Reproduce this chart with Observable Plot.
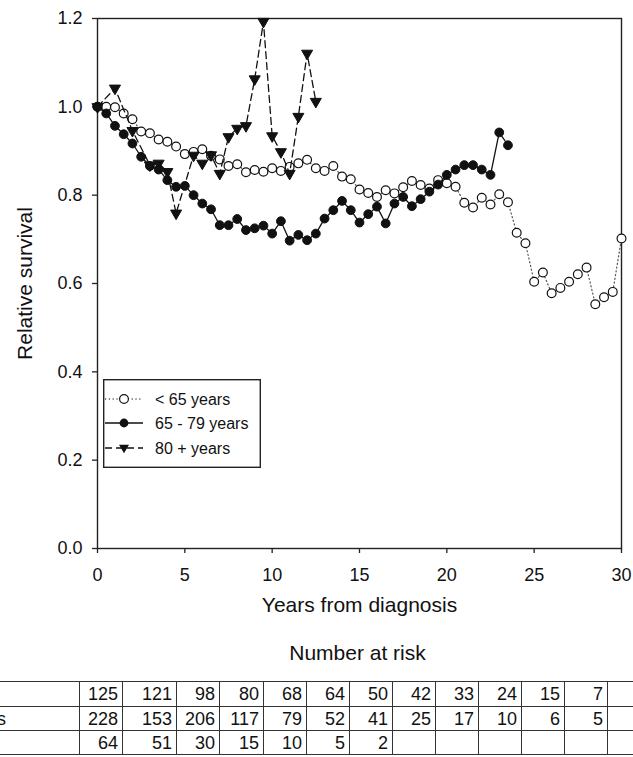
<!DOCTYPE html>
<html>
<head>
<meta charset="utf-8">
<script src="https://cdn.jsdelivr.net/npm/d3@7"></script>
<script src="https://cdn.jsdelivr.net/npm/@observablehq/plot@0.6"></script>
<style>
  html, body { margin: 0; padding: 0; background: #fff; overflow: hidden; }
  #wrap { position: relative; width: 633px; height: 757px; overflow: hidden;
          font-family: "Liberation Sans", Arial, sans-serif; color: #111; }
  #legend { position: absolute; left: 103px; top: 379px; }
  #risk { position: absolute; left: -104px; top: 681px; border-collapse: collapse;
          table-layout: fixed; font-size: 18px; font-family: "Liberation Sans", Arial, sans-serif; }
  #risk td { border: 1.5px solid #333; padding: 0 4px 0 0; text-align: right;
             white-space: nowrap; overflow: hidden; line-height: 20px; }
  #risk td.lab { text-align: left; padding-left: 4px; }
</style>
</head>
<body>
<div id="wrap"></div>
<script>
// ---- data ----
const yearsLt65 = [0,0.5,1,1.5,2,2.5,3,3.5,4,4.5,5,5.5,6,6.5,7,7.5,8,8.5,9,9.5,
  10,10.5,11,11.5,12,12.5,13,13.5,14,14.5,15,15.5,16,16.5,17,17.5,18,18.5,19,19.5,
  20,20.5,21,21.5,22,22.5,23,23.5,24,24.5,25,25.5,26,26.5,27,27.5,28,28.5,29,29.5,30];
const survLt65 = [1.000,1.000,0.999,0.985,0.972,0.944,0.940,0.926,0.921,0.910,
  0.893,0.898,0.904,0.889,0.881,0.866,0.870,0.852,0.857,0.853,
  0.861,0.855,0.864,0.872,0.880,0.861,0.855,0.866,0.842,0.836,
  0.813,0.805,0.796,0.811,0.804,0.818,0.832,0.823,0.815,0.834,
  0.827,0.819,0.783,0.772,0.794,0.779,0.802,0.784,0.715,0.691,
  0.604,0.625,0.578,0.590,0.604,0.621,0.636,0.553,0.569,0.581,
  0.702];

const years6579 = [0,0.5,1,1.5,2,2.5,3,3.5,4,4.5,5,5.5,6,6.5,7,7.5,8,8.5,9,9.5,
  10,10.5,11,11.5,12,12.5,13,13.5,14,14.5,15,15.5,16,16.5,17,17.5,18,18.5,19,19.5,
  20,20.5,21,21.5,22,22.5,23,23.5];
const surv6579 = [1.000,0.985,0.957,0.938,0.917,0.887,0.866,0.858,0.834,0.819,
  0.821,0.800,0.781,0.768,0.732,0.732,0.746,0.721,0.725,0.731,
  0.713,0.741,0.697,0.710,0.698,0.713,0.747,0.766,0.787,0.766,
  0.738,0.757,0.774,0.736,0.781,0.796,0.775,0.791,0.808,0.824,
  0.846,0.858,0.868,0.868,0.858,0.846,0.942,0.913];

const years80 = [0,1,2,3,3.5,4,4.5,5.5,6,6.5,7,7.5,8,8.5,9,9.5,10,10.5,11,11.5,12,12.5];
const surv80 = [1.000,1.042,0.946,0.868,0.872,0.853,0.759,0.890,0.872,0.891,0.849,
  0.932,0.951,0.957,1.063,1.193,0.934,0.898,0.849,0.978,1.121,1.012];

const xTicks = [0,5,10,15,20,25,30];
const yTicks = [0,0.2,0.4,0.6,0.8,1.0,1.2];

const groupLabels = ["< 65 years", "65 - 79 years", "80 + years"];
const riskLt65 = [125,121,98,80,68,64,50,42,33,24,15,7,null];
const risk6579 = [228,153,206,117,79,52,41,25,17,10,6,5,null];
const risk80   = [64,51,30,15,10,5,2,null,null,null,null,null,null];

const xTitle = "Years from diagnosis";
const yTitle = "Relative survival";
const tableTitle = "Number at risk";

// ---- build tables ----
const dLt65 = yearsLt65.map((x, i) => ({x, y: survLt65[i]}));
const d6579 = years6579.map((x, i) => ({x, y: surv6579[i]}));
const d80 = years80.map((x, i) => ({x, y: surv80[i]}));

const ink = "#111";

const chart = Plot.plot({
  width: 633,
  height: 680,
  marginLeft: 97,
  marginRight: 12,
  marginTop: 18,
  marginBottom: 132,
  style: { fontFamily: "Liberation Sans, Arial, sans-serif", fontSize: "18px", color: ink, background: "white", overflow: "visible" },
  x: { domain: [0, 30] },
  y: { domain: [0, 1.2] },
  marks: [
    Plot.frame({ stroke: "#222", strokeWidth: 1.4 }),
    Plot.axisX({ ticks: xTicks, tickFormat: d => String(d), tickSize: 5, tickPadding: 15, label: null, fontSize: 18, stroke: "#222", strokeWidth: 1.3 }),
    Plot.axisY({ ticks: yTicks, tickFormat: d3.format(".1f"), tickSize: 5, tickPadding: 10, label: null, fontSize: 18, stroke: "#222", strokeWidth: 1.3 }),
    Plot.text([yTitle], { frameAnchor: "left", textAnchor: "middle", rotate: -90, dx: -72, fontSize: 21, fill: ink }),
    Plot.text([xTitle], { frameAnchor: "bottom", dy: 63, fontSize: 21, fill: ink }),
    Plot.text([tableTitle], { frameAnchor: "bottom", dy: 111, dx: -2, fontSize: 21, fill: ink }),

    Plot.line(dLt65, { x: "x", y: "y", stroke: "#555", strokeWidth: 1.2, strokeDasharray: "1.2,2.6" }),
    Plot.dot(dLt65, { x: "x", y: "y", r: 4.4, fill: "white", stroke: ink, strokeWidth: 1.2 }),

    Plot.line(d6579, { x: "x", y: "y", stroke: ink, strokeWidth: 1.3 }),
    Plot.dot(d6579, { x: "x", y: "y", r: 4.4, fill: ink, stroke: ink, strokeWidth: 1 }),

    Plot.line(d80, { x: "x", y: "y", stroke: ink, strokeWidth: 1.3, strokeDasharray: "7,4" }),
    Plot.dot(d80, { x: "x", y: "y", symbol: "triangle", r: 4.1, rotate: 180, fill: ink, stroke: ink, strokeWidth: 1 })
  ]
});

const wrap = document.getElementById("wrap");
wrap.appendChild(chart);

// ---- legend ----
const ns = "http://www.w3.org/2000/svg";
const leg = document.createElementNS(ns, "svg");
leg.setAttribute("id", "legend");
leg.setAttribute("width", "158");
leg.setAttribute("height", "89");
const styles = [
  { dash: "1.2,2.6", stroke: "#555", sym: "open" },
  { dash: null, stroke: ink, sym: "filled" },
  { dash: "7,4", stroke: ink, sym: "tri" }
];
let html = `<rect x="0.7" y="0.7" width="156.6" height="87.6" fill="white" stroke="#222" stroke-width="1.4"/>`;
const rowsY = [20, 44, 69];
groupLabels.forEach((lab, i) => {
  const s = styles[i], y = rowsY[i];
  html += `<line x1="2" x2="40" y1="${y}" y2="${y}" stroke="${s.stroke}" stroke-width="1.3" ${s.dash ? `stroke-dasharray="${s.dash}"` : ""}/>`;
  if (s.sym === "open") html += `<circle cx="21" cy="${y}" r="4.4" fill="white" stroke="${ink}" stroke-width="1.2"/>`;
  else if (s.sym === "filled") html += `<circle cx="21" cy="${y}" r="4.4" fill="${ink}"/>`;
  else html += `<path d="M${21-5},${y-3.2}L${21+5},${y-3.2}L21,${y+5.3}Z" fill="${ink}"/>`;
  html += `<text x="52" y="${y}" dy="0.35em" font-size="16" font-family="Liberation Sans, Arial, sans-serif" fill="${ink}">${lab.replace("<", "&lt;")}</text>`;
});
leg.innerHTML = html;
wrap.appendChild(leg);

// ---- number at risk table ----
const colWidths = [183, 43, 54, 43, 44, 43, 43, 43, 43, 43, 43, 43, 43, 43];
const rowHeights = [25, 24, 24];
const table = document.createElement("table");
table.id = "risk";
const cg = document.createElement("colgroup");
colWidths.forEach(w => { const c = document.createElement("col"); c.style.width = w + "px"; cg.appendChild(c); });
table.appendChild(cg);
[riskLt65, risk6579, risk80].forEach((vals, r) => {
  const tr = document.createElement("tr");
  tr.style.height = rowHeights[r] + "px";
  const th = document.createElement("td");
  th.className = "lab";
  th.textContent = groupLabels[r];
  tr.appendChild(th);
  vals.forEach(v => {
    const td = document.createElement("td");
    td.textContent = v == null ? "" : String(v);
    tr.appendChild(td);
  });
  table.appendChild(tr);
});
table.style.width = d3.sum(colWidths) + "px";
wrap.appendChild(table);
</script>
</body>
</html>
